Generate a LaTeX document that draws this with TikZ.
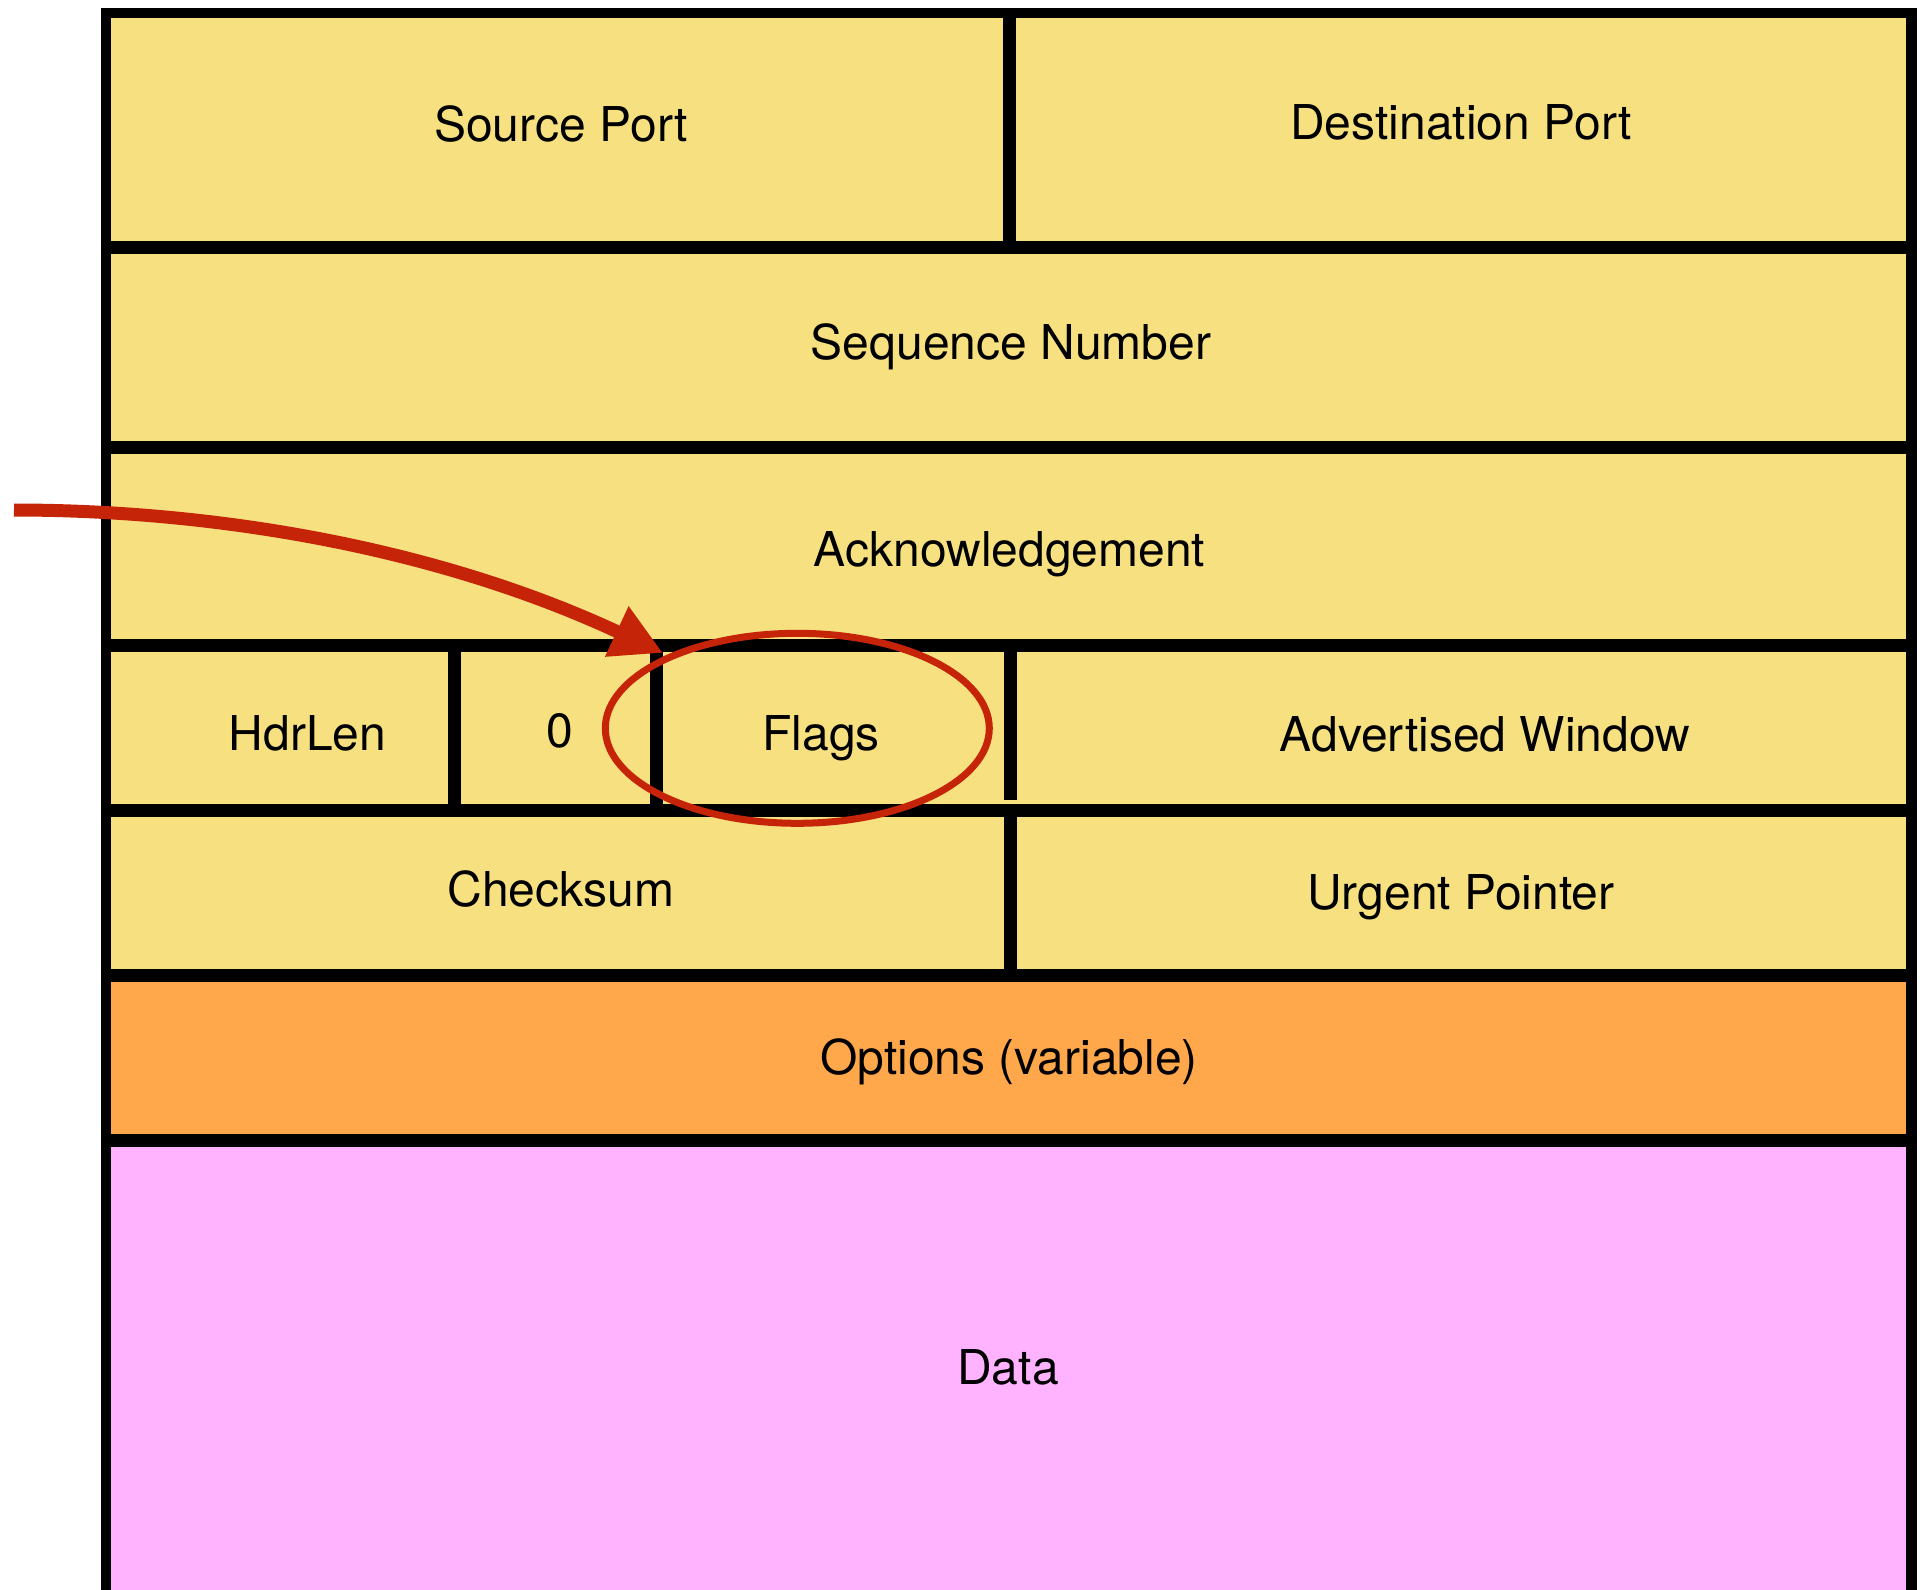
\documentclass[tikz,border=0pt]{standalone}
\usepackage{fontspec}
\setmainfont{TeX Gyre Heros}
\usetikzlibrary{arrows.meta}
\definecolor{cellyellow}{RGB}{246,224,127}
\definecolor{cellorange}{RGB}{255,167,75}
\definecolor{cellpink}{RGB}{255,179,255}
\definecolor{markred}{RGB}{198,36,8}
\tikzset{
  outerline/.style={line width=10.5pt, line join=miter, black},
  innerline/.style={line width=13pt, black},
  lbl/.style={font=\fontsize{48}{58}\selectfont, inner sep=0pt, anchor=base},
  markring/.style={draw=markred, line width=7pt},
  flagarrow/.style={draw=markred, line width=13pt, -{Triangle[length=51pt,width=52pt]}, fill=none}
}
\begin{document}
\begin{tikzpicture}[x=1pt,y=-1pt]
\useasboundingbox (0,0) rectangle (1928,1590);
% fills
\fill[cellyellow] (106,13) rectangle (1911.7,975.5);
\fill[cellorange] (106,975.5) rectangle (1911.7,1140.7);
\fill[cellpink] (106,1140.7) rectangle (1911.7,1590);
% horizontal dividers
\foreach \yy in {247.5,447,645.3,810.3,975.5,1140.7}
  \draw[innerline] (106,\yy) -- (1911.7,\yy);
% vertical dividers
\draw[innerline] (1009.3,13) -- (1009.3,247.5);
\draw[innerline] (454,645.3) -- (454,810.3);
\draw[innerline] (656,645.3) -- (656,810.3);
\draw[innerline] (1010.8,645.3) -- (1010.8,800);
\draw[innerline] (1010.8,810.3) -- (1010.8,975.5);
% outer frame
\draw[outerline] (106,1595) -- (106,13) -- (1911.7,13) -- (1911.7,1595);
% labels
\node[lbl] (srcport) at (561,141) {Source Port};
\node[lbl] (dstport) at (1461,139) {Destination Port};
\node[lbl] (seqnum) at (1011,359) {Sequence Number};
\node[lbl] (ack) at (1009.5,566) {Acknowledgement};
\node[lbl] (hdrlen) at (307.4,750) {HdrLen};
\node[lbl] (zero) at (560,747) {0};
\node[lbl] (flags) at (821,750) {Flags};
\node[lbl] (advwin) at (1485,751) {Advertised Window};
\node[lbl] (checksum) at (561,906) {Checksum};
\node[lbl] (urgent) at (1461,909) {Urgent Pointer};
\node[lbl] (options) at (1009,1074) {Options (variable)};
\node[lbl] (data) at (1008,1384) {Data};
% highlight ring
\draw[markring] (797.3,728.3) ellipse [x radius=192, y radius=95];
% arrow
\coordinate (arrowstart) at (14,510);
\coordinate (arrowtip) at (663,653);
\draw[flagarrow] (arrowstart) .. controls (214,510) and (436.5,547.3) .. (arrowtip);
\end{tikzpicture}
\end{document}
